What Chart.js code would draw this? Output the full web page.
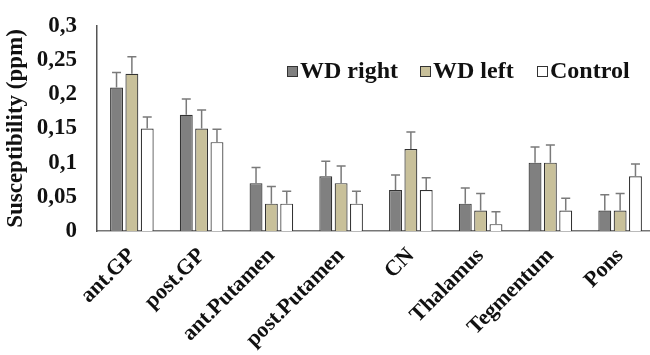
<!DOCTYPE html>
<html>
<head>
<meta charset="utf-8">
<script src="https://cdn.jsdelivr.net/npm/chart.js@4/dist/chart.umd.min.js"></script>
<style>
  html, body { margin: 0; padding: 0; background: #fff; overflow: hidden; }
  #wrap { width: 656px; height: 355px; position: relative; }
</style>
</head>
<body>
<div id="wrap"><canvas id="c"></canvas></div>
<script>
const categories = ['ant.GP', 'post.GP', 'ant.Putamen', 'post.Putamen', 'CN', 'Thalamus', 'Tegmentum', 'Pons'];
const seriesNames = ['WD right', 'WD left', 'Control'];
const wdRight = [0.21, 0.17, 0.07, 0.08, 0.06, 0.04, 0.10, 0.03];
const wdLeft = [0.23, 0.15, 0.04, 0.07, 0.12, 0.03, 0.10, 0.03];
const control = [0.15, 0.13, 0.04, 0.04, 0.06, 0.01, 0.03, 0.08];
const wdRightErr = [0.022, 0.023, 0.023, 0.022, 0.022, 0.023, 0.023, 0.023];
const wdLeftErr = [0.025, 0.027, 0.025, 0.025, 0.025, 0.025, 0.026, 0.025];
const controlErr = [0.017, 0.019, 0.018, 0.018, 0.018, 0.018, 0.018, 0.018];
const yTickLabels = ['0', '0,05', '0,1', '0,15', '0,2', '0,25', '0,3'];

const FONT = '"Liberation Serif", "Times New Roman", serif';
const colors = ['#808080', '#c8c09a', '#ffffff'];

const errorBars = {
  id: 'errorBars',
  afterDatasetsDraw(chart) {
    const ctx = chart.ctx;
    const y = chart.scales.y;
    ctx.save();
    ctx.strokeStyle = '#7a7a7a';
    ctx.lineWidth = 1.5;
    chart.data.datasets.forEach((ds, di) => {
      const meta = chart.getDatasetMeta(di);
      meta.data.forEach((bar, i) => {
        const top = y.getPixelForValue(ds.data[i] + ds.errors[i]);
        ctx.beginPath();
        ctx.moveTo(bar.x, bar.y);
        ctx.lineTo(bar.x, top);
        ctx.moveTo(bar.x - 4.5, top);
        ctx.lineTo(bar.x + 4.5, top);
        ctx.stroke();
      });
    });
    ctx.restore();
  }
};

const customLegend = {
  id: 'customLegend',
  afterDraw(chart) {
    const ctx = chart.ctx;
    const xs = [287, 420, 537];
    const yc = 71;
    ctx.save();
    ctx.font = 'bold 24px ' + FONT;
    ctx.textBaseline = 'middle';
    ctx.textAlign = 'left';
    seriesNames.forEach((name, i) => {
      ctx.fillStyle = colors[i];
      ctx.fillRect(xs[i], yc - 5, 10, 10);
      ctx.strokeStyle = '#333';
      ctx.lineWidth = 1;
      ctx.strokeRect(xs[i] + 0.5, yc - 4.5, 10, 10);
      ctx.fillStyle = '#111';
      ctx.fillText(name, xs[i] + 13, yc + 1);
    });
    ctx.restore();
  }
};

const mk = (label, data, errs, i) => ({
  label, data, errors: errs,
  backgroundColor: colors[i],
  borderColor: '#333333',
  borderWidth: 1.2,
  categoryPercentage: 0.66,
  barPercentage: 0.84
});

new Chart(document.getElementById('c'), {
  type: 'bar',
  data: {
    labels: categories,
    datasets: [
      mk(seriesNames[0], wdRight, wdRightErr, 0),
      mk(seriesNames[1], wdLeft, wdLeftErr, 1),
      mk(seriesNames[2], control, controlErr, 2)
    ]
  },
  options: {
    responsive: true,
    maintainAspectRatio: false,
    animation: false,
    devicePixelRatio: 1,
    layout: { padding: { top: 26, right: 1, left: 0, bottom: 0 } },
    plugins: { legend: { display: false }, tooltip: { enabled: false } },
    scales: {
      x: {
        grid: { display: false, drawTicks: false },
        border: { display: true, color: '#777', width: 1.5 },
        ticks: {
          maxRotation: 45, minRotation: 45, padding: 12,
          color: '#111',
          font: { family: FONT, size: 22, weight: 'bold' }
        },
        afterFit(s) { s.height = 124; }
      },
      y: {
        min: 0, max: 0.3,
        grid: { display: false, drawTicks: false },
        border: { display: true, color: '#555', width: 1.5 },
        ticks: {
          stepSize: 0.05, padding: 20, color: '#111',
          font: { family: FONT, size: 23, weight: 'bold' },
          callback: (v, i) => yTickLabels[i]
        },
        title: {
          display: true, text: 'Susceptibility (ppm)', color: '#111',
          font: { family: FONT, size: 23, weight: 'bold' },
          padding: { top: 2, bottom: 0 }
        },
        afterFit(s) { s.width = 97; s.paddingTop = 0; s.paddingBottom = 0; }
      }
    }
  },
  plugins: [errorBars, customLegend]
});
</script>
</body>
</html>
